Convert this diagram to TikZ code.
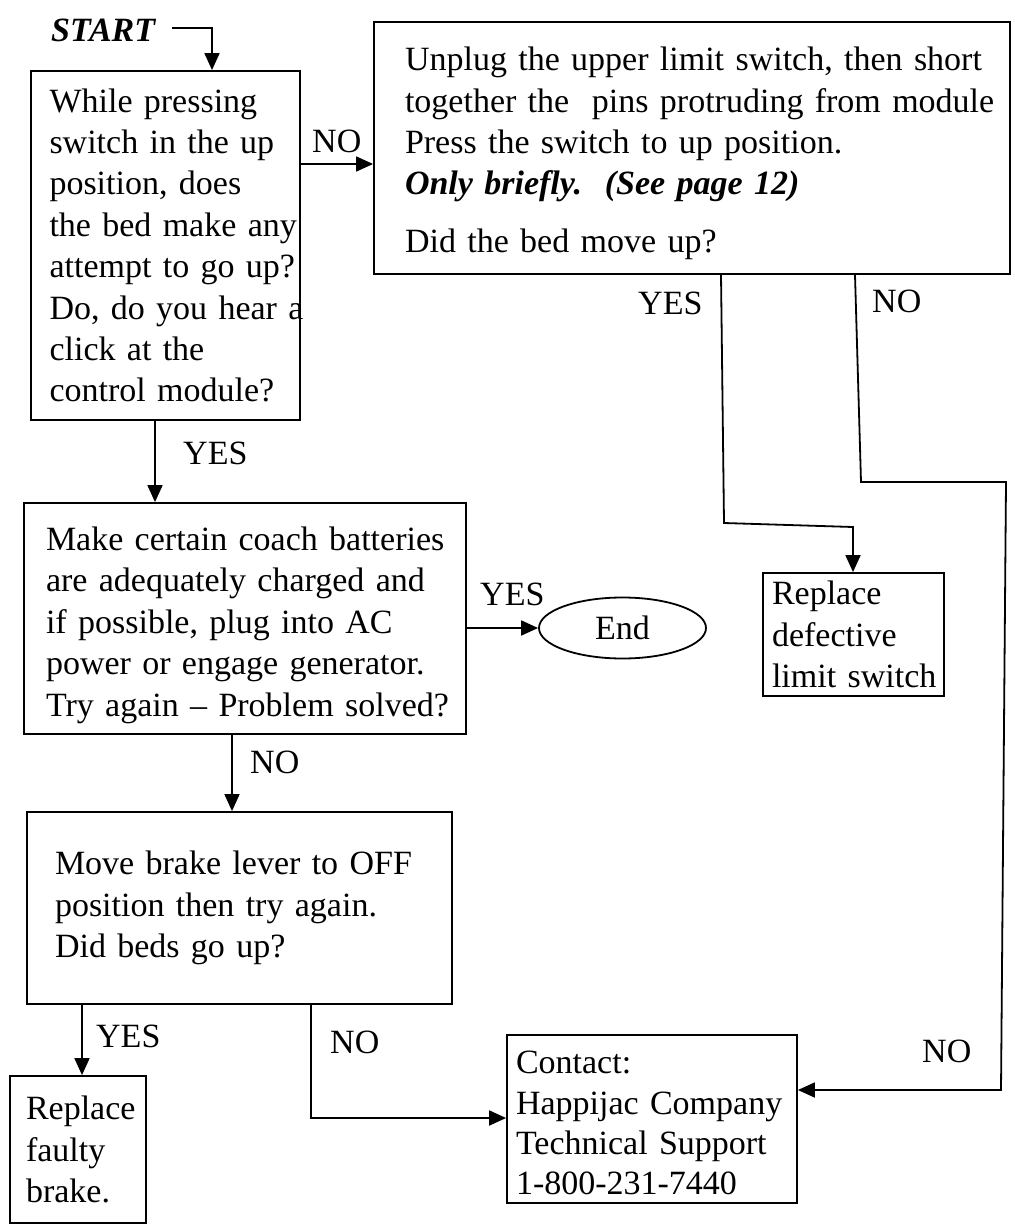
\documentclass[tikz,border=0pt]{standalone}
\usepackage{fontspec}
\setmainfont{Liberation Serif}
\usetikzlibrary{arrows.meta,shapes.geometric,calc}
\newcommand\ml[1]{\mbox{#1}}
\newcommand\tallstrut[1]{\rule{0pt}{#1}}
\begin{document}
\begin{tikzpicture}[x=1pt,y=-1pt,
  every node/.style={font=\fontsize{34}{41.4}\selectfont},
  box/.style={draw, line width=1.8pt, rectangle, align=left, inner ysep=0pt},
  endshape/.style={draw, ellipse, line width=1.8pt, inner sep=0pt, minimum width=167pt, minimum height=61pt},
  lbl/.style={inner sep=0pt, anchor=base west},
  conn/.style={line width=1.8pt},
  arr/.style={conn, -{Triangle[length=17pt,width=15pt]}},
]
\useasboundingbox (0,0) rectangle (1014,1225);

% boxes
\node[box, minimum width=269pt, minimum height=349pt, text width=232pt, inner xsep=18.5pt] (b1) at (165.5,245.5)
 {\ml{While pressing}\\\ml{switch in the up}\\\ml{position, does}\\\ml{the bed make any}\\\ml{attempt to go up?}\\\ml{Do, do you hear a}\\\ml{click at the}\\\ml{control module?}};
\node[box, minimum width=636pt, minimum height=252pt, text width=574pt, inner xsep=31pt] (b2) at (692,148)
 {\ml{\tallstrut{35pt}Unplug the upper limit switch, then short}\\\ml{together the\ \ pins protruding from module}\\\ml{Press the switch to up position.}\\\ml{\bfseries\itshape Only briefly.\ \ (See page 12)}\\[16.6pt]\ml{Did the bed move up?}};
\node[box, minimum width=442pt, minimum height=231pt, text width=398pt, inner xsep=22pt] (b3) at (245,618.5)
 {\ml{\tallstrut{37pt}Make certain coach batteries}\\\ml{are adequately charged and}\\\ml{if possible, plug into AC}\\\ml{power or engage generator.}\\\ml{Try again -- Problem solved?}};
\node[box, minimum width=425pt, minimum height=192pt, text width=369pt, inner xsep=28pt] (b4) at (239.5,908)
 {\ml{Move brake lever to OFF}\\\ml{position then try again.}\\\ml{Did beds go up?}};
\node[box, minimum width=136pt, minimum height=147pt, text width=104pt, inner xsep=16pt] (b5) at (78,1149.5)
 {\ml{Replace}\\\ml{faulty}\\\ml{brake.}};
\node[box, minimum width=290pt, minimum height=168pt, text width=272pt, inner xsep=9pt,
      font=\fontsize{34}{40.4}\selectfont] (b6) at (652,1119)
 {\ml{\tallstrut{31pt}Contact:}\\\ml{Happijac Company}\\\ml{Technical Support}\\\ml{1-800-231-7440}};
\node[box, minimum width=181pt, minimum height=123pt, text width=163pt, inner xsep=9pt] (b7) at (853.5,634.5)
 {\ml{Replace}\\\ml{defective}\\\ml{limit switch}};
\node[endshape] (end) at (622.5,628) {End};

% labels
\node[lbl, font=\fontsize{34}{41.4}\selectfont\bfseries\itshape] (start) at (51,42) {START};
\node[lbl] (no1) at (312,153) {NO};
\node[lbl] (yes1) at (183,464) {YES};
\node[lbl] (yes2) at (480,605) {YES};
\node[lbl] (no2) at (250,773) {NO};
\node[lbl] (yes3) at (96,1047) {YES};
\node[lbl] (no3) at (330,1053) {NO};
\node[lbl] (yes4) at (638,314) {YES};
\node[lbl] (no4) at (872,312) {NO};
\node[lbl] (no5) at (922,1062) {NO};

% helper coordinates
\coordinate (s1) at (172,28);
\coordinate (s2) at (212,28);
\coordinate (ya) at (0,164);
\coordinate (xa) at (155,0);
\coordinate (xb) at (232,0);
\coordinate (xc) at (82,0);
\coordinate (xd) at (311,0);
\coordinate (d1) at (311,1118);
\coordinate (e1) at (721,0);
\coordinate (e2) at (724,523);
\coordinate (e3) at (853,527);
\coordinate (f1) at (855,0);
\coordinate (f2) at (861,482);
\coordinate (f3) at (1006,482);
\coordinate (f4) at (1001,1090);

% connectors
\draw[arr] (s1) -- (s2) -- (s2 |- b1.north);
\draw[arr] (b1.east |- ya) -- (b2.west |- ya);
\draw[arr] (xa |- b1.south) -- (xa |- b3.north);
\draw[arr] (b3.east |- end.west) -- (end.west);
\draw[arr] (xb |- b3.south) -- (xb |- b4.north);
\draw[arr] (xc |- b4.south) -- (xc |- b5.north);
\draw[arr] (xd |- b4.south) -- (d1) -- (b6.west |- d1);
\draw[arr] (e1 |- b2.south) -- (e2) -- (e3) -- (e3 |- b7.north);
\draw[arr] (f1 |- b2.south) -- (f2) -- (f3) -- (f4) -- (b6.east |- f4);
\end{tikzpicture}
\end{document}
